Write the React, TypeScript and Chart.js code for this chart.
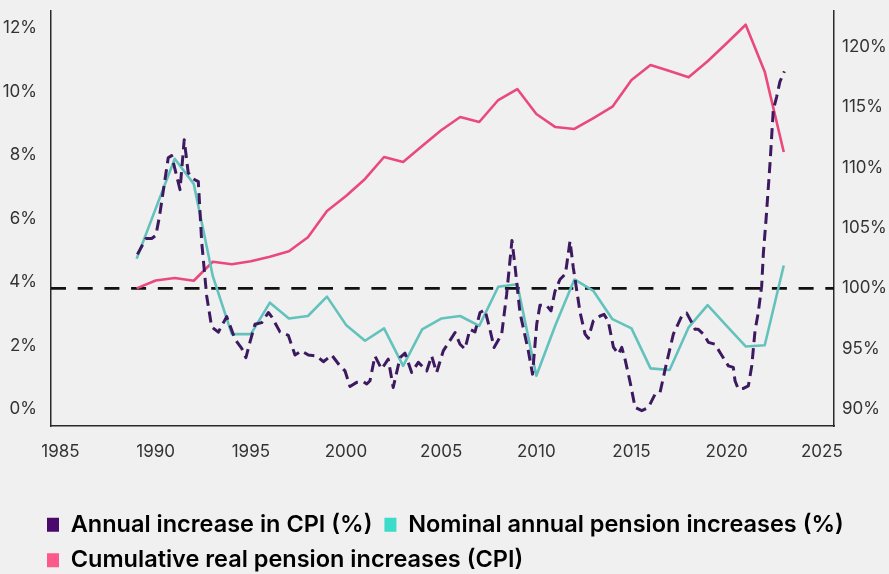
import React, { useEffect, useRef } from "react";
import { Chart, registerables } from "chart.js";

Chart.register(...registerables);

// ---- data ----
const pensionYears = [
  1989, 1990, 1991, 1992, 1993, 1994, 1995, 1996, 1997, 1998, 1999, 2000,
  2001, 2002, 2003, 2004, 2005, 2006, 2007, 2008, 2009, 2010, 2011, 2012,
  2013, 2014, 2015, 2016, 2017, 2018, 2019, 2020, 2021, 2022, 2023,
];

const nominalPensionIncrease = [
  4.73, 6.31, 7.88, 7.09, 4.19, 2.36, 2.36, 3.35, 2.85, 2.93, 3.54, 2.65,
  2.15, 2.54, 1.36, 2.51, 2.85, 2.93, 2.62, 3.85, 3.93, 1.05, 2.64, 4.08,
  3.72, 2.83, 2.54, 1.28, 1.23, 2.57, 3.27, 2.62, 1.97, 2.01, 4.52,
];

const cumulativeRealPension = [
  100, 100.65, 100.85, 100.63, 102.2, 101.99, 102.24, 102.62, 103.07, 104.23,
  106.4, 107.65, 109.06, 110.88, 110.46, 111.79, 113.1, 114.19, 113.78, 115.6,
  116.51, 114.44, 113.36, 113.2, 114.11, 115.05, 117.26, 118.5, 118.0, 117.48,
  118.81, 120.3, 121.84, 117.95, 111.29,
];

const cpiDates = [
  1989.04, 1989.49, 1989.79, 1990.01, 1990.2, 1990.66, 1990.84, 1991.28,
  1991.5, 1991.71, 1991.97, 1992.24, 1992.42, 1992.68, 1992.94, 1993.29,
  1993.73, 1994.17, 1994.52, 1994.74, 1994.95, 1995.22, 1995.57, 1995.92,
  1996.09, 1996.53, 1996.97, 1997.32, 1997.67, 1998.02, 1998.46, 1998.81,
  1999.25, 1999.68, 1999.95, 2000.21, 2000.56, 2000.91, 2001.09, 2001.26,
  2001.52, 2001.87, 2002.22, 2002.48, 2002.84, 2003.1, 2003.45, 2003.8,
  2004.24, 2004.5, 2004.76, 2005.11, 2005.73, 2005.99, 2006.25, 2006.51,
  2006.78, 2007.04, 2007.3, 2007.56, 2007.78, 2008.18, 2008.44, 2008.72,
  2008.88, 2009.14, 2009.58, 2009.8, 2010.02, 2010.19, 2010.53, 2010.77,
  2010.98, 2011.24, 2011.53, 2011.77, 2011.94, 2012.3, 2012.56, 2012.73,
  2012.99, 2013.35, 2013.56, 2013.78, 2014.05, 2014.31, 2014.49, 2014.66,
  2014.93, 2015.19, 2015.54, 2015.89, 2016.24, 2016.5, 2016.85, 2017.2,
  2017.64, 2017.9, 2018.17, 2018.34, 2018.51, 2018.78, 2019.04, 2019.39,
  2019.65, 2020.09, 2020.35, 2020.44, 2020.61, 2020.88, 2021.14, 2021.32,
  2021.49, 2021.66, 2021.84, 2021.93, 2022.07, 2022.28, 2022.45, 2022.63,
  2022.8, 2023.03,
];

const cpiAnnualIncrease = [
  4.87, 5.37, 5.37, 5.47, 6.07, 7.91, 7.98, 6.91,
  8.48, 7.44, 7.25, 7.16, 5.24, 3.56, 2.59, 2.42,
  2.91, 2.2, 1.91, 1.62, 2.1, 2.67, 2.72, 3.04,
  2.91, 2.43, 2.32, 1.7, 1.83, 1.7, 1.67, 1.49,
  1.7, 1.36, 1.2, 0.71, 0.84, 0.86, 0.79, 0.89,
  1.67, 1.26, 1.57, 0.68, 1.62, 1.76, 1.15, 1.47,
  1.2, 1.67, 1.15, 1.83, 2.41, 2.04, 1.89, 2.51,
  2.43, 3.04, 3.12, 2.51, 1.94, 2.36, 3.61, 5.31,
  4.5, 3.04, 1.83, 1.1, 2.67, 3.27, 3.27, 3.09,
  3.71, 4.08, 4.26, 5.29, 4.46, 3.04, 2.36, 2.23,
  2.77, 2.93, 2.98, 2.76, 1.95, 1.73, 1.94, 1.57,
  0.84, 0.05, -0.05, 0.05, 0.47, 0.52, 1.47, 2.36,
  2.93, 3.02, 2.72, 2.51, 2.51, 2.36, 2.1, 2.04,
  1.78, 1.36, 1.31, 0.89, 0.63, 0.65, 0.73, 1.36,
  2.46, 3.04, 3.87, 4.92, 5.97, 7.75, 9.42, 9.84,
  10.31, 10.63,
];

const xTicks = [1985, 1990, 1995, 2000, 2005, 2010, 2015, 2020, 2025];
const leftTicks = [0, 2, 4, 6, 8, 10, 12];
const rightTicks = [90, 95, 100, 105, 110, 115, 120];
const referenceLevel = 100;

const seriesNames = [
  "Annual increase in CPI (%)",
  "Nominal annual pension increases (%)",
  "Cumulative real pension increases (CPI)",
];

// ---- axis ranges ----
const X_MIN = 1984.5;
const X_MAX = 2025.64;
const L_MIN = -0.534;
const L_MAX = 12.534;
const R_MIN = 88.595;
const R_MAX = 122.975;

// ---- styles ----
const FONT = 'Inter, "Noto Sans", sans-serif';
const C_CPI = "#3d1a60";
const C_NOM = "#63c2bc";
const C_CUM = "#e9497c";
const LEGEND_COLORS = ["#4a0a6b", "#3ddbc9", "#fb5a8a"];
const AXIS_COLOR = "#2a2a2a";
const TICK_COLOR = "#333333";
const W = 889;
const H = 582;
const LEGEND_LEFT = 35;

export default function App() {
  const ref = useRef<HTMLCanvasElement | null>(null);

  useEffect(() => {
    const canvas = ref.current;
    if (!canvas) return;

    const zeroPad = (s: any) => {
      s.paddingTop = 0;
      s.paddingBottom = 0;
      s.paddingLeft = 0;
      s.paddingRight = 0;
    };

    const legendShift = {
      id: "legendShift",
      afterLayout(chart: any) {
        if (chart.legend) chart.legend.left = LEGEND_LEFT;
      },
    };

    const chart = new Chart(canvas, {
      type: "line",
      data: {
        datasets: [
          {
            label: seriesNames[0],
            data: cpiDates.map((d, i) => ({ x: d, y: cpiAnnualIncrease[i] })),
            borderColor: C_CPI,
            borderWidth: 3,
            borderDash: [11, 6],
            borderJoinStyle: "round",
            pointRadius: 0,
            tension: 0,
            yAxisID: "yL",
          },
          {
            label: seriesNames[1],
            data: pensionYears.map((y, i) => ({ x: y, y: nominalPensionIncrease[i] })),
            borderColor: C_NOM,
            borderWidth: 2.6,
            borderJoinStyle: "round",
            pointRadius: 0,
            tension: 0,
            yAxisID: "yL",
          },
          {
            label: seriesNames[2],
            data: pensionYears.map((y, i) => ({ x: y, y: cumulativeRealPension[i] })),
            borderColor: C_CUM,
            borderWidth: 2.6,
            borderJoinStyle: "round",
            pointRadius: 0,
            tension: 0,
            yAxisID: "yR",
          },
          {
            label: "reference",
            data: [
              { x: X_MIN, y: referenceLevel },
              { x: X_MAX, y: referenceLevel },
            ],
            borderColor: "#111111",
            borderWidth: 2.6,
            borderDash: [15, 11.7],
            pointRadius: 0,
            yAxisID: "yR",
          },
        ],
      },
      options: {
        animation: false,
        responsive: false,
        maintainAspectRatio: false,
        layout: { padding: { left: 0, top: 11, right: 0, bottom: 0 } },
        plugins: {
          tooltip: { enabled: false },
          legend: {
            position: "bottom",
            align: "start",
            labels: {
              boxWidth: 12,
              boxHeight: 14,
              padding: 12,
              color: "#000000",
              font: { family: FONT, size: 23.5, weight: "600" },
              generateLabels: () =>
                seriesNames.map((name, i) => ({
                  text: name,
                  fillStyle: LEGEND_COLORS[i],
                  strokeStyle: LEGEND_COLORS[i],
                  lineWidth: 0,
                  hidden: false,
                  datasetIndex: i,
                })),
            },
          },
        },
        scales: {
          x: {
            type: "linear",
            min: X_MIN,
            max: X_MAX,
            grid: { display: false, drawTicks: false, tickLength: 0 },
            border: { display: true, color: AXIS_COLOR, width: 1.5 },
            ticks: {
              padding: 16,
              color: TICK_COLOR,
              font: { family: FONT, size: 17 },
              maxRotation: 0,
              callback: (v: any) => String(v),
            },
            afterBuildTicks: (s: any) => {
              s.ticks = xTicks.map((v) => ({ value: v }));
            },
            afterFit: (s: any) => {
              s.height = 75;
              zeroPad(s);
            },
          },
          yL: {
            type: "linear",
            position: "left",
            min: L_MIN,
            max: L_MAX,
            grid: { display: false, drawTicks: false, tickLength: 0 },
            border: { display: true, color: AXIS_COLOR, width: 1.5 },
            ticks: {
              padding: 14,
              color: TICK_COLOR,
              font: { family: FONT, size: 17 },
              callback: (v: any) => `${v}%`,
            },
            afterBuildTicks: (s: any) => {
              s.ticks = leftTicks.map((v) => ({ value: v }));
            },
            afterFit: (s: any) => {
              s.width = 51;
              zeroPad(s);
            },
          },
          yR: {
            type: "linear",
            position: "right",
            min: R_MIN,
            max: R_MAX,
            grid: { display: false, drawTicks: false, tickLength: 0 },
            border: { display: true, color: AXIS_COLOR, width: 1.5 },
            ticks: {
              padding: 8,
              color: TICK_COLOR,
              font: { family: FONT, size: 17 },
              callback: (v: any) => `${v}%`,
            },
            afterBuildTicks: (s: any) => {
              s.ticks = rightTicks.map((v) => ({ value: v }));
            },
            afterFit: (s: any) => {
              s.width = 55;
              zeroPad(s);
            },
          },
        },
      },
      plugins: [legendShift],
    } as any);

    return () => chart.destroy();
  }, []);

  return (
    <div
      style={{
        position: "fixed",
        left: 0,
        top: 0,
        width: W,
        height: H,
        background: "#f0f0f0",
        overflow: "hidden",
      }}
    >
      <canvas ref={ref} width={W} height={H} style={{ display: "block" }} />
    </div>
  );
}
